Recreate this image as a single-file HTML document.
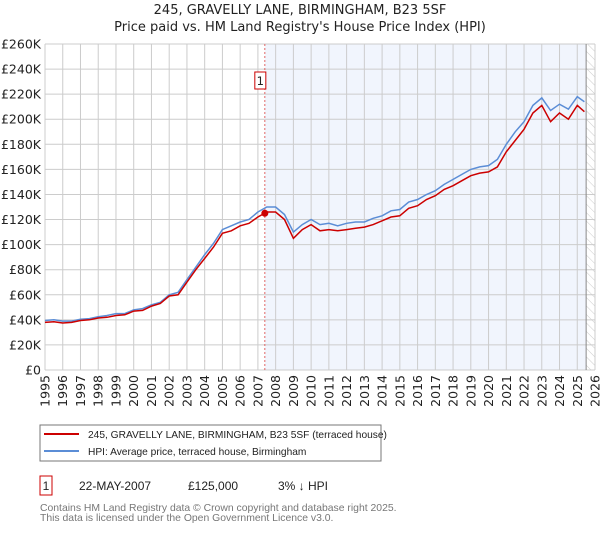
<!DOCTYPE html>
<html><head><meta charset="utf-8"><style>
body{margin:0;background:#fff;font-family:"Liberation Sans","DejaVu Sans",sans-serif}
svg text{font-family:"DejaVu Sans","Liberation Sans",sans-serif}
svg text.ls{font-family:"Liberation Sans",sans-serif}
</style></head><body>
<svg id="c" width="600" height="530" xmlns="http://www.w3.org/2000/svg">
<defs><pattern id="hatch" width="6" height="6" patternUnits="userSpaceOnUse" patternTransform="rotate(-45)"><line x1="0" y1="0" x2="0" y2="6" stroke="#ccc" stroke-width="1"/></pattern></defs>
<text x="300" y="14" text-anchor="middle" font-size="13" fill="#222">245, GRAVELLY LANE, BIRMINGHAM, B23 5SF</text>
<text x="300" y="31" text-anchor="middle" font-size="13" fill="#222">Price paid vs. HM Land Registry's House Price Index (HPI)</text>
<g id="grid"></g><g id="series"></g><g id="axes"></g>
<rect x="40" y="425" width="341" height="36" fill="#fff" stroke="#777"/>
<line x1="44" y1="434" x2="79" y2="434" stroke="#cc0000" stroke-width="2"/>
<text class="ls" x="88" y="438" font-size="10.2" fill="#222">245, GRAVELLY LANE, BIRMINGHAM, B23 5SF (terraced house)</text>
<line x1="44" y1="451" x2="79" y2="451" stroke="#5b8dd6" stroke-width="2"/>
<text class="ls" x="88" y="455" font-size="10.2" fill="#222">HPI: Average price, terraced house, Birmingham</text>
<rect x="40" y="476" width="12" height="19" fill="#fff" stroke="#cc0000"/>
<text class="ls" x="46" y="490" text-anchor="middle" font-size="12" fill="#222">1</text>
<text class="ls" x="79" y="490" font-size="12" fill="#222">22-MAY-2007</text>
<text class="ls" x="188" y="490" font-size="12" fill="#222">£125,000</text>
<text class="ls" x="278" y="490" font-size="12" fill="#222">3% ↓ HPI</text>
<text class="ls" x="40" y="511" font-size="10.4" fill="#777">Contains HM Land Registry data © Crown copyright and database right 2025.</text>
<text class="ls" x="40" y="521" font-size="10.4" fill="#777">This data is licensed under the Open Government Licence v3.0.</text>
</svg>
<script>
const years=[1995,1996,1997,1998,1999,2000,2001,2002,2003,2004,2005,2006,2007,2008,2009,2010,2011,2012,2013,2014,2015,2016,2017,2018,2019,2020,2021,2022,2023,2024,2025,2026];
const yTicks=[0,20,40,60,80,100,120,140,160,180,200,220,240,260];
const hpiT=[1995,1995.5,1996,1996.5,1997,1997.5,1998,1998.5,1999,1999.5,2000,2000.5,2001,2001.5,2002,2002.5,2003,2003.5,2004,2004.5,2005,2005.5,2006,2006.5,2007,2007.5,2008,2008.5,2009,2009.5,2010,2010.5,2011,2011.5,2012,2012.5,2013,2013.5,2014,2014.5,2015,2015.5,2016,2016.5,2017,2017.5,2018,2018.5,2019,2019.5,2020,2020.5,2021,2021.5,2022,2022.5,2023,2023.5,2024,2024.5,2025,2025.4];
const hpiV=[39.5,40,39,39,40.5,41,42.5,43.5,45,45,48,49,52,54,60,62,72,82,92,101,112,115,118,120,126,130,130,124,110,116,120,116,117,115,117,118,118,121,123,127,128,134,136,140,143,148,152,156,160,162,163,168,180,190,198,211,217,207,212,208,218,214];
const priceV=[38,38.5,37.5,38,39.5,40,41.5,42,43.5,44,47,47.5,51,53,59,60,70,80,89,98,109,111,115,117,122,126,126,120,105,112,116,111,112,111,112,113,114,116,119,122,123,129,131,136,139,144,147,151,155,157,158,162,174,183,192,205,211,198,205,200,211,206];
const saleT=2007.39, saleV=125;
const L=45,R=595,T=44,B=370;
const xs=t=>L+(t-1995)/(2026-1995)*(R-L);
const ys=v=>B-v/260*(B-T);
const NS='http://www.w3.org/2000/svg';
function mk(tag,attrs,parent){const e=document.createElementNS(NS,tag);for(const k in attrs)e.setAttribute(k,attrs[k]);parent.appendChild(e);return e;}
const g=document.getElementById('grid'),s=document.getElementById('series'),a=document.getElementById('axes');
let r=mk('rect',{x:xs(saleT),y:T,width:xs(2025.5)-xs(saleT),height:B-T,fill:'#f1f5fd'},g);


r=mk('rect',{x:xs(2025.5),y:T,width:R-xs(2025.5),height:B-T,fill:'url(#hatch)'},g);


yTicks.forEach(v=>{const l=mk('line',{x1:L,x2:R,y1:ys(v),y2:ys(v),stroke:'#ccc'},g);


const t=mk('text',{x:L-4,y:ys(v)+4.5,'text-anchor':'end','font-size':'12.5',fill:'#222'},a);t.textContent='£'+(v?v+'K':'0');

});
years.forEach(y=>{const l=mk('line',{x1:xs(y),x2:xs(y),y1:T,y2:B,stroke:'#ccc'},g);


const t=mk('text',{x:0,y:0,'text-anchor':'end','font-size':'12.5',fill:'#222',transform:`translate(${xs(y)+4.5},${B+5}) rotate(-90)`},a);t.textContent=y;

});
let l=mk('line',{x1:xs(2025.5),x2:xs(2025.5),y1:T,y2:B,stroke:'#888'},g);


l=mk('line',{x1:xs(saleT),x2:xs(saleT),y1:T,y2:B,stroke:'#e06666','stroke-dasharray':'2,2'},g);


const pts=(vs)=>hpiT.map((t,i)=>xs(t).toFixed(1)+','+ys(vs[i]).toFixed(1)).join(' ');
let p=mk('polyline',{points:pts(hpiV),fill:'none',stroke:'#5b8dd6','stroke-width':1.5},s);


p=mk('polyline',{points:pts(priceV),fill:'none',stroke:'#cc0000','stroke-width':1.5},s);


let c=mk('circle',{cx:xs(saleT),cy:ys(saleV),r:3.5,fill:'#cc0000'},s);


let b=mk('rect',{x:xs(saleT)-10,y:72,width:11,height:17,fill:'#fff',stroke:'#cc0000'},s);


let bt=mk('text',{x:xs(saleT)-4.5,y:85,'text-anchor':'middle','font-size':'11.5',fill:'#222'},s);bt.textContent='1';


</script>
</body></html>
